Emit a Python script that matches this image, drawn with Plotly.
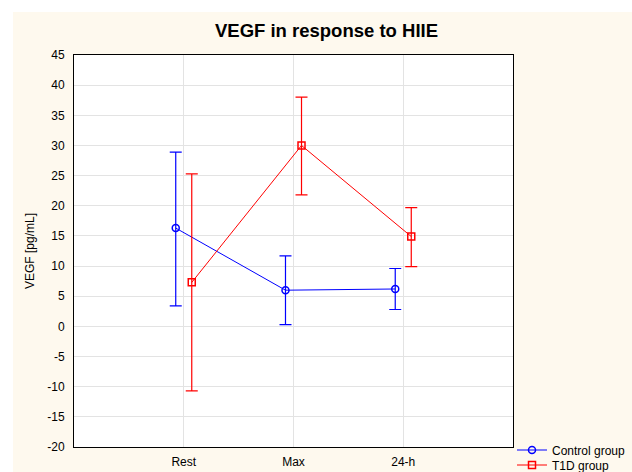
import plotly.graph_objects as go

# ---- data ----
categories = ["Rest", "Max", "24-h"]

control_mean = [16.3, 6.0, 6.2]
control_upper = [28.9, 11.7, 9.6]
control_lower = [3.4, 0.3, 2.8]

t1d_mean = [7.3, 30.0, 14.9]
t1d_upper = [25.3, 38.0, 19.7]
t1d_lower = [-10.7, 21.8, 9.9]

y_ticks = list(range(-20, 50, 5))
y_tick_labels = [str(v) for v in y_ticks]  # plain hyphen-minus as in the reference

# ---- layout constants ----
W, H = 632, 472
L, R, T, B = 74, 119, 55, 25
offset = 0.073  # horizontal dodge between groups (category units)
cream = "#FEF9EE"
font_family = "Liberation Sans, Arial, sans-serif"

idx = list(range(1, len(categories) + 1))
x_control = [i - offset for i in idx]
x_t1d = [i + offset for i in idx]

fig = go.Figure()

fig.add_trace(go.Scatter(
    x=x_control, y=control_mean, mode="lines+markers", name="Control group",
    line=dict(color="#0000FF", width=1),
    marker=dict(symbol="circle-open", size=7, color="#0000FF", line=dict(width=1.5)),
    error_y=dict(type="data", symmetric=False,
                 array=[u - m for u, m in zip(control_upper, control_mean)],
                 arrayminus=[m - l for m, l in zip(control_mean, control_lower)],
                 color="#0000FF", thickness=1.2, width=6),
    legend="legend",
))

fig.add_trace(go.Scatter(
    x=x_t1d, y=t1d_mean, mode="lines+markers", name="T1D group",
    line=dict(color="#FF0000", width=1),
    marker=dict(symbol="square-open", size=7, color="#FF0000", line=dict(width=1.5)),
    error_y=dict(type="data", symmetric=False,
                 array=[u - m for u, m in zip(t1d_upper, t1d_mean)],
                 arrayminus=[m - l for m, l in zip(t1d_mean, t1d_lower)],
                 color="#FF0000", thickness=1.2, width=6),
    legend="legend2",
))

pw = W - L - R
ph = H - T - B

def px_to_paper_x(px):
    return (px - L) / pw

def px_to_paper_y(py):
    return (H - B - py) / ph

legend_common = dict(
    bgcolor="rgba(0,0,0,0)", borderwidth=0,
    font=dict(family=font_family, size=12, color="black"),
    xref="container", yref="container",
    xanchor="left", yanchor="middle", itemwidth=30,
)

fig.update_layout(
    width=W, height=H,
    margin=dict(l=L, r=R, t=T, b=B, pad=0, autoexpand=False),
    paper_bgcolor=cream, plot_bgcolor="white",
    font=dict(family=font_family, size=12, color="black"),
    title=dict(text="<b>VEGF in response to HIIE</b>",
               font=dict(family=font_family, size=18.5, color="black"),
               x=326.5 / W, xref="container", xanchor="center",
               y=1 - 31 / H, yref="container", yanchor="middle"),
    xaxis=dict(range=[0, 4], tickvals=idx, ticktext=categories,
               showgrid=True, gridcolor="#E3E3E3", gridwidth=1,
               showline=True, linecolor="black", linewidth=1, mirror=True,
               ticks="", ticklabelstandoff=4, zeroline=False, automargin=False,
               tickfont=dict(size=12, color="black")),
    yaxis=dict(range=[-20, 45], tickvals=y_ticks, ticktext=y_tick_labels,
               showgrid=True, gridcolor="#E3E3E3", gridwidth=1,
               showline=True, linecolor="black", linewidth=1, mirror=True,
               ticks="", ticklabelstandoff=6, zeroline=False, automargin=False,
               tickfont=dict(size=12, color="black"),
               title=dict(text="VEGF [pg/mL]", font=dict(size=12, color="black"), standoff=10)),
    legend=dict(x=512 / W, y=1 - 450 / H, **legend_common),
    legend2=dict(x=512 / W, y=1 - 465 / H, **legend_common),
    showlegend=True,
    shapes=[
        dict(type="rect", xref="paper", yref="paper", layer="below",
             x0=px_to_paper_x(0), x1=px_to_paper_x(13), y0=px_to_paper_y(H), y1=px_to_paper_y(0),
             fillcolor="white", line=dict(width=0)),
        dict(type="rect", xref="paper", yref="paper", layer="below",
             x0=px_to_paper_x(0), x1=px_to_paper_x(W), y0=px_to_paper_y(12), y1=px_to_paper_y(0),
             fillcolor="white", line=dict(width=0)),
    ],
)

fig.write_html("out.html",
               config={"displayModeBar": False},
               post_script="document.body.style.margin='0';document.body.style.overflow='hidden';")
